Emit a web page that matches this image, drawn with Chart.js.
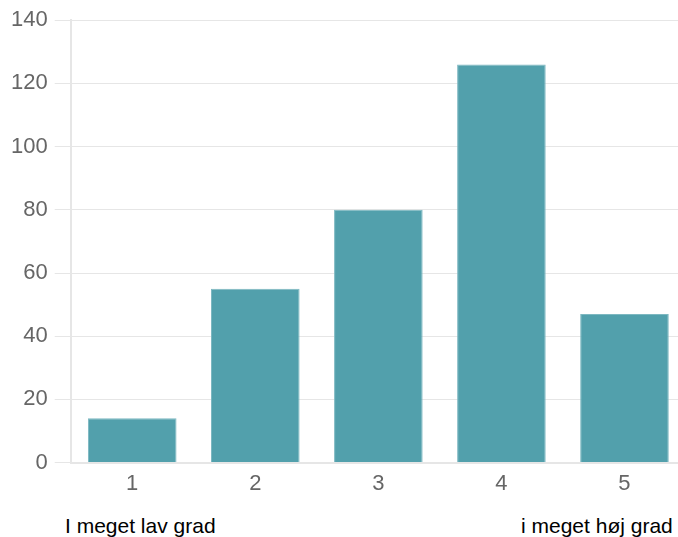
<!DOCTYPE html>
<html>
<head>
<meta charset="utf-8">
<script src="https://cdn.jsdelivr.net/npm/chart.js@4"></script>
<style>
  html, body { margin: 0; padding: 0; background: #fff; overflow: hidden; }
  #wrap { position: relative; width: 686px; height: 537px; }
  #box { position: absolute; left: 0; top: 0; width: 686px; height: 497px; }
  .lbl { position: absolute; top: 514px; font-family: "Liberation Sans", Arial, sans-serif; font-size: 21px; color: #000; }
</style>
</head>
<body>
<div id="wrap">
  <div id="box"><canvas id="chart"></canvas></div>
  <div class="lbl" style="left:65px">I meget lav grad</div>
  <div class="lbl" style="left:521px">i meget høj grad</div>
</div>
<script>
const categories = ['1', '2', '3', '4', '5'];
const counts = [14, 55, 80, 126, 47];
const yTicks = [0, 20, 40, 60, 80, 100, 120, 140];

const ctx = document.getElementById('chart').getContext('2d');
const chart = new Chart(ctx, {
    type: 'bar',
    data: {
        labels: categories,
        datasets: [{
            data: counts,
            backgroundColor: '#52a0ac',
            borderColor: '#7db8c1',
            borderWidth: 1
        }]
    },
    options: {
        responsive: true,
        maintainAspectRatio: false,
        animation: false,
        layout: { padding: { top: 11, left: 4, right: 0, bottom: 0 } },
        plugins: { legend: { display: false }, tooltip: { enabled: false } },
        scales: {
            x: {
                grid: { display: false },
                border: { color: '#e6e6e6', width: 2 },
                ticks: { color: '#666', font: { family: 'Liberation Sans', size: 22 }, padding: 0 }
            },
            y: {
                min: 0,
                max: 140,
                afterBuildTicks: axis => { axis.ticks = yTicks.map(v => ({ value: v })); },
                grid: { color: '#e6e6e6', tickLength: 16, lineWidth: 1 },
                border: { color: '#e6e6e6', width: 2 },
                ticks: { color: '#666', font: { family: 'Liberation Sans', size: 22 }, padding: 7 }
            }
        }
    }
});
</script>
</body>
</html>
